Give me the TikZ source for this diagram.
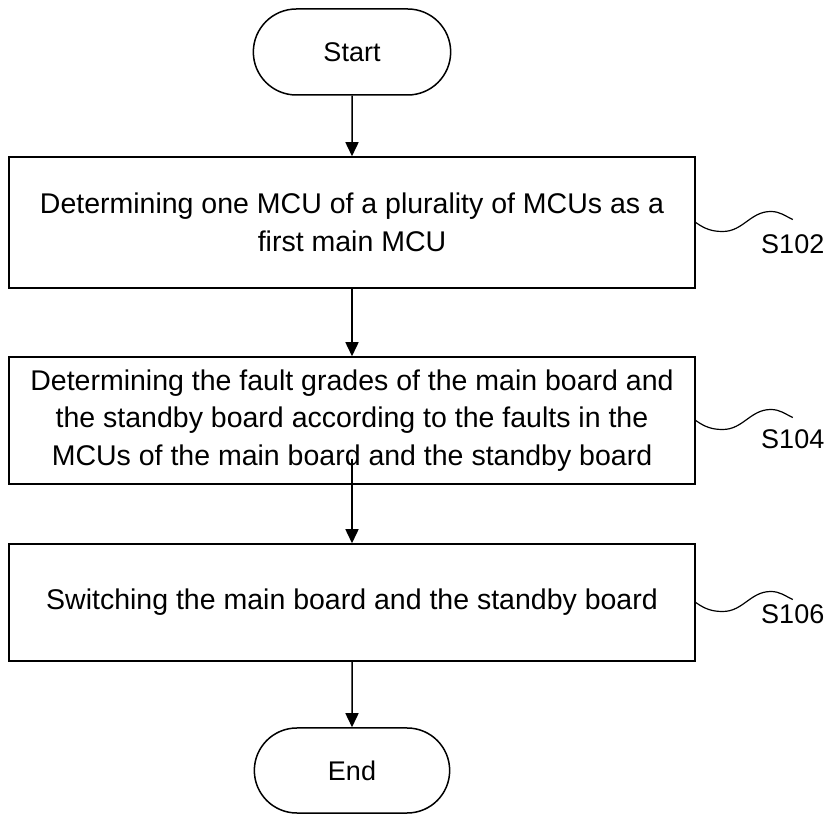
\documentclass[tikz,border=0pt]{standalone}
\usepackage{fontspec}
\setmainfont{Liberation Sans}
\usetikzlibrary{positioning,arrows.meta,shapes.misc}

\tikzset{
  term/.style={draw, rounded rectangle, minimum width=204pt, minimum height=86pt,
    font=\fontsize{27}{32}\selectfont},
  process/.style={draw, rectangle, minimum width=686pt, align=center,
    font=\fontsize{28.5}{37.5}\selectfont},
  wave/.style={line width=1.2pt},
  steplabel/.style={font=\fontsize{27}{32}\selectfont}
}

\begin{document}
\begin{tikzpicture}[>={Triangle[length=14pt,width=13pt]}, line width=1.5pt, on grid]
   \useasboundingbox (0,0) rectangle (830pt,814pt);
   \node[term] (start) at (352pt,762pt) {Start};
   \node[process,minimum height=131pt] (s102) [below=170.5pt of start]
      {Determining one MCU of a plurality of MCUs as a\\first main MCU};
   \node[process,minimum height=127pt] (s104) [below=198pt of s102]
      {Determining the fault grades of the main board and\\the standby board according to the faults in the\\MCUs of the main board and the standby board};
   \node[process,minimum height=117pt] (s106) [below=182pt of s104]
      {Switching the main board and the standby board};
   \node[term,minimum width=202pt,minimum height=85pt] (end) [below=168pt of s106] {End};
    \path[->]
    (start) edge (s102)
    (s102) edge (s104)
    ([yshift=26pt]s104.south) edge (s106)
    (s106) edge (end);
   % step numbers
   \foreach \b/\s/\dy in {s102/S102/-25, s104/S104/-22, s106/S106/-15} {
     \draw[wave] (\b.east) to[out=-35,in=180] ++(27pt,-9pt)
        to[out=0,in=180] ++(48pt,20pt)
        to[out=0,in=155] ++(22pt,-8pt) coordinate (w\b);
     \node[steplabel] (l\b) at ([yshift=\dy pt]w\b) {\s};
   }
\end{tikzpicture}
\end{document}
